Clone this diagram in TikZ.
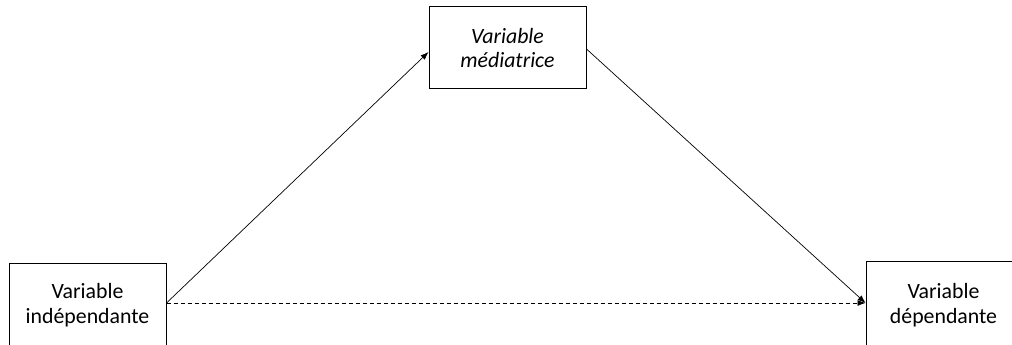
\documentclass[tikz,border=0pt]{standalone}
\usepackage{fontspec}
\setmainfont{Carlito}
\usetikzlibrary{arrows.meta}
\begin{document}
\begin{tikzpicture}[x=1pt,y=1pt,
  varbox/.style={draw=black,line width=1pt,rectangle,inner sep=0pt},
  vartext/.style={align=center,anchor=base,inner sep=0pt,
    font=\fontsize{21.8}{25}\selectfont},
  link/.style={line width=0.7pt,-{Latex[length=8pt,width=6pt]}},
  direct/.style={link,dash pattern=on 4pt off 3pt}]
\useasboundingbox (0,0) rectangle (1012,345);
% boxes (the two lower boxes run past the page edges)
\node[varbox,minimum width=157pt,minimum height=86pt] (vi) at (87.5,38) {};
\node[varbox,minimum width=157pt,minimum height=82pt] (vm) at (507.5,297) {};
\node[varbox,minimum width=155pt,minimum height=88pt] (vd) at (943.5,39) {};
% labels (anchored on the baseline of the last line)
\node[vartext] (ti) at (87.5,21) {Variable\\indépendante};
\node[vartext,font=\fontsize{21.8}{24}\selectfont\itshape] (tm) at (507.5,277) {Variable\\médiatrice};
\node[vartext] (td) at (943.5,21) {Variable\\dépendante};
% paths
\draw[link] ([yshift=4pt]vi.east) -- ([yshift=-4pt]vm.west);
\draw[link] ([yshift=-1pt]vm.east) -- ([yshift=3pt]vd.west);
\draw[direct] ([yshift=4pt]vi.east) -- ([yshift=3pt]vd.west);
\end{tikzpicture}
\end{document}
